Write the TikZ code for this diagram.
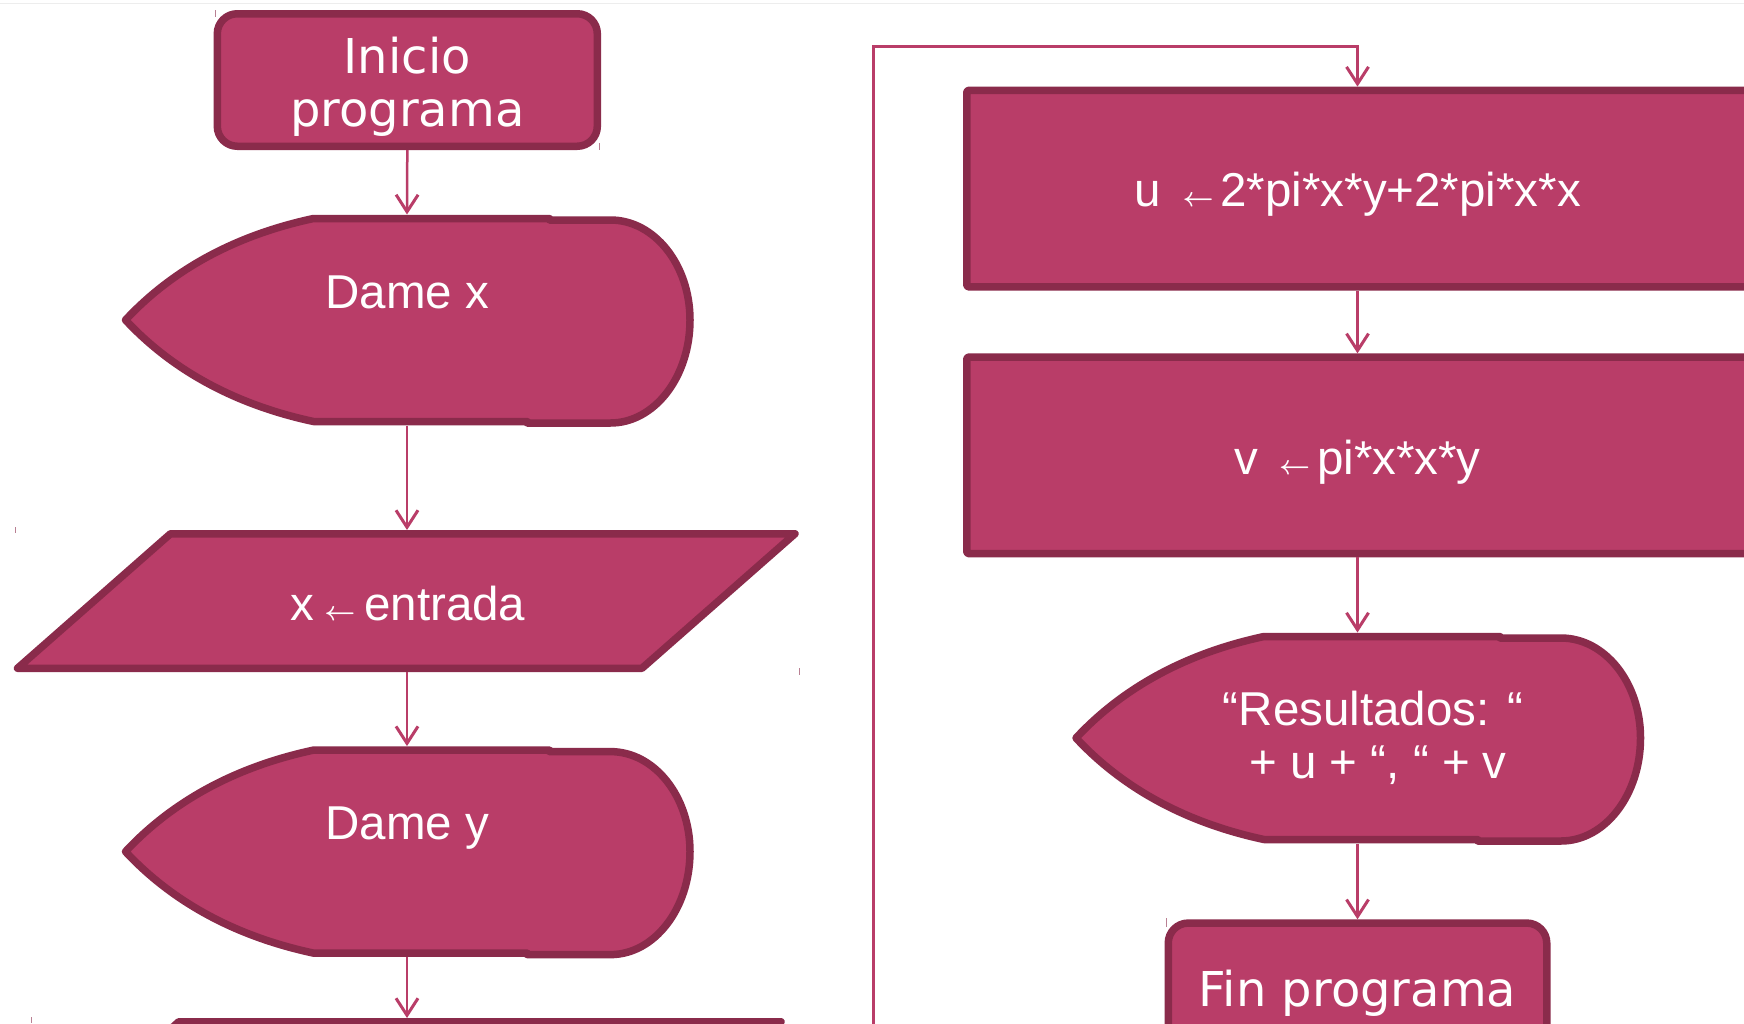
\documentclass[tikz,border=0pt]{standalone}
\usepackage{fontspec}
\usepackage{graphicx}
\usetikzlibrary{arrows.meta}
\newfontfamily\dvs{DejaVu Sans}
\newfontfamily\lbs{Liberation Sans}
\definecolor{fillc}{RGB}{185,61,104}
\definecolor{edgec}{RGB}{138,43,75}
\definecolor{linec}{RGB}{185,61,104}
\newcommand\smarr{\resizebox{31pt}{!}{\boldmath$\leftarrow$}}
\tikzset{
  shp/.style={fill=fillc,draw=edgec,line width=7.5pt,line join=round},
  dispshape/.pic={
    \path[shp] (0,0) .. controls (47.5,-51) and (111,-85) .. (188,-101.5)
      -- (424,-101.5) -- (424,-100) -- (484.9,-100)
      .. controls (528.9,-100) and (564.5,-55.2) .. (564.5,0)
      .. controls (564.5,56.9) and (528.9,103) .. (484.9,103)
      -- (401.7,103) -- (401.7,101.5) -- (188,101.5)
      .. controls (111,85) and (47.5,51) .. (0,0) -- cycle;
    \coordinate (-n) at (281.5,-105.5);
    \coordinate (-s) at (281.5,105.5);
  }
}
\begin{document}
\begin{tikzpicture}[x=1pt,y=-1pt,
  boxr/.style={shp,rectangle,rounded corners=20pt,minimum width=380pt,minimum height=132.5pt,inner sep=0pt},
  boxs/.style={shp,rectangle,rounded corners=1.5pt,minimum width=781.5pt,minimum height=196.5pt,inner sep=0pt},
  txtD/.style={text=white,font=\dvs\fontsize{48}{53}\selectfont,anchor=base,inner sep=0pt},
  txtL/.style={text=white,font=\lbs\fontsize{47.5}{53}\selectfont,anchor=base,inner sep=0pt},
  conn/.style={draw=linec,line width=2.5pt,-{Straight Barb[length=17pt,width=22pt,line width=3pt]}},
  tickm/.style={draw=edgec!60,line width=1pt}]
\useasboundingbox (0,0) rectangle (1744,1023);
\fill[white] (0,0) rectangle (1744,1023);
\clip (0,0) rectangle (1744,1023);
\draw[black!7,line width=1.5pt] (0,3.5) -- (1744,3.5);

% left column
\node[boxr] (ini) at (407.3,80) {};
\node[txtD] (t1a) at (407.3,73.3) {Inicio};
\node[txtD] (t1b) at (407.3,126.7) {programa};

\pic (dx) at (125.5,320) {dispshape};
\node[txtL] (t2) at (407.3,308.3) {Dame x};

\path[shp] (170.5,533.75) -- (795,533.75) -- (642,668.25) -- (17.5,668.25) -- cycle;
\coordinate (p1n) at (407,530);
\coordinate (p1s) at (407,672);
\node[txtL] (t3) at (408,620) {x\hspace{10pt}\smarr\hspace{9pt}entrada};

\pic (dy) at (125.5,851.6) {dispshape};
\node[txtL] (t4) at (407.3,839.9) {Dame y};

\path[shp] (178.8,1021.75) -- (781,1021.75) -- (628,1160) -- (25,1160) -- cycle;
\coordinate (p2n) at (407,1018);

\draw[conn] (ini.south) -- (dx-n);
\draw[conn] (dx-s) -- (p1n);
\draw[conn] (p1s) -- (dy-n);
\draw[conn] (dy-s) -- (p2n);

% right column
\node[boxs] (ub) at (1357.5,188.6) {};
\node[txtL] (t5) at (1357.5,206) {u\hspace{22pt}\smarr\hspace{7pt}2*pi*x*y+2*pi*x*x};
\node[boxs] (vb) at (1357.5,455.35) {};
\node[txtL] (t6) at (1357.5,474) {v\hspace{21pt}\smarr\hspace{7pt}pi*x*x*y};

\pic (rs) at (1076,738) {dispshape};
\node[txtL] (t7a) at (1373,725) {“Resultados: “};
\node[txtL] (t7b) at (1378,778.3) {+ u + “, “ + v};

\node[boxr,minimum width=378.5pt] (fin) at (1357.5,989.3) {};
\node[txtD] (t8) at (1357.5,1006.7) {Fin programa};

\coordinate (lb) at (873.5,1040);
\coordinate (lt) at (873.5,46.5);
\draw[conn] (lb) -- (lt) -| (ub.north);
\draw[conn] (ub.south) -- (vb.north);
\draw[conn] (vb.south) -- (rs-n);
\draw[conn] (rs-s) -- (fin.north);

% small corner marks
\draw[tickm] (215.3,10) -- (215.3,17);
\draw[tickm] (599.3,143) -- (599.3,150);
\draw[tickm] (15.5,527) -- (15.5,533);
\draw[tickm] (799,668) -- (799,675);
\draw[tickm] (31.6,1017) -- (31.6,1023);
\draw[tickm] (1166,918) -- (1166,927);
\end{tikzpicture}
\end{document}
